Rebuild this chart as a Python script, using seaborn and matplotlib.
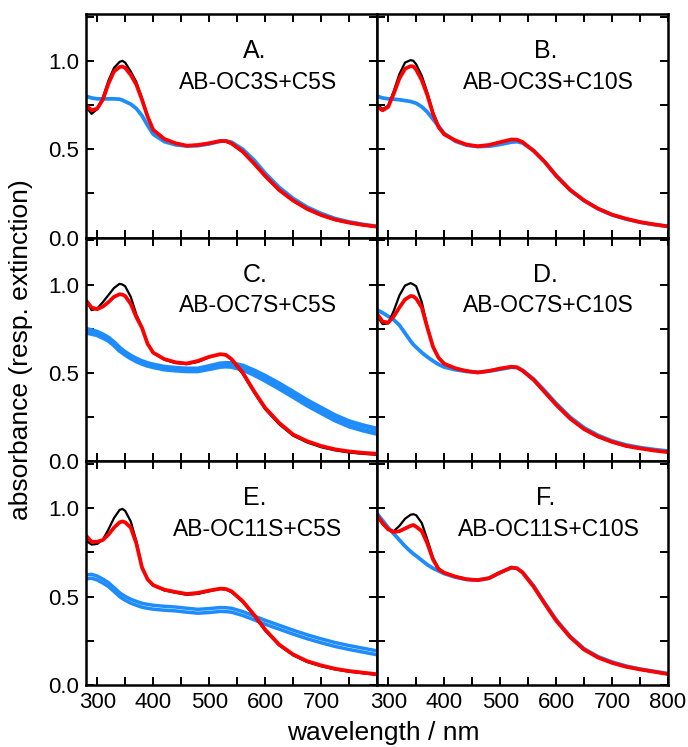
import matplotlib
matplotlib.use("Agg")
import matplotlib.pyplot as plt
from matplotlib.ticker import MultipleLocator, FixedLocator, FixedFormatter
import seaborn as sns

# ---------------- data ----------------
wavelength = [280, 290, 300, 310, 320, 330, 340, 345, 350, 360, 370, 380, 390, 400,
              420, 440, 460, 480, 500, 520, 530, 540, 560, 580, 600, 625, 650, 675,
              700, 725, 750, 775, 800]

a_black = [0.74, 0.70, 0.727, 0.79, 0.887, 0.96, 0.994, 1.0, 0.99, 0.94, 0.88, 0.79, 0.69, 0.612,
           0.558, 0.534, 0.52, 0.524, 0.534, 0.545, 0.543, 0.53, 0.483, 0.417, 0.346, 0.267, 0.207,
           0.16, 0.126, 0.10, 0.083, 0.07, 0.06]
a_red = [0.75, 0.72, 0.73, 0.78, 0.87, 0.94, 0.965, 0.968, 0.96, 0.92, 0.865, 0.78, 0.685, 0.61,
         0.558, 0.534, 0.52, 0.524, 0.534, 0.547, 0.546, 0.533, 0.487, 0.42, 0.35, 0.27, 0.21,
         0.163, 0.128, 0.102, 0.085, 0.072, 0.062]
a_blue = [0.80, 0.79, 0.785, 0.785, 0.785, 0.785, 0.783, 0.778, 0.77, 0.755, 0.73, 0.69, 0.635, 0.585,
          0.543, 0.525, 0.518, 0.52, 0.53, 0.545, 0.547, 0.54, 0.5, 0.44, 0.365, 0.285, 0.222,
          0.173, 0.137, 0.108, 0.089, 0.075, 0.064]

b_black = [0.755, 0.727, 0.746, 0.83, 0.925, 0.99, 1.004, 1.0, 0.98, 0.915, 0.82, 0.71, 0.63, 0.586,
           0.55, 0.526, 0.517, 0.524, 0.54, 0.554, 0.553, 0.54, 0.49, 0.427, 0.35, 0.27, 0.21,
           0.164, 0.13, 0.107, 0.088, 0.075, 0.064]
b_red = [0.74, 0.72, 0.74, 0.815, 0.9, 0.955, 0.97, 0.968, 0.95, 0.89, 0.805, 0.70, 0.625, 0.584,
         0.55, 0.526, 0.517, 0.524, 0.54, 0.555, 0.554, 0.541, 0.49, 0.427, 0.35, 0.27, 0.21,
         0.164, 0.13, 0.107, 0.088, 0.075, 0.064]
b_blue = [0.80, 0.79, 0.785, 0.783, 0.78, 0.775, 0.77, 0.765, 0.76, 0.74, 0.71, 0.67, 0.63, 0.59,
          0.545, 0.523, 0.515, 0.517, 0.527, 0.54, 0.543, 0.535, 0.493, 0.428, 0.352, 0.27, 0.21,
          0.163, 0.128, 0.105, 0.087, 0.074, 0.063]

c_black = [0.91, 0.855, 0.864, 0.90, 0.94, 0.98, 1.004, 1.0, 0.99, 0.93, 0.83, 0.76, 0.665, 0.612,
           0.575, 0.556, 0.55, 0.562, 0.588, 0.605, 0.6, 0.575, 0.495, 0.39, 0.295, 0.21, 0.145,
           0.107, 0.08, 0.062, 0.05, 0.042, 0.037]
c_red = [0.91, 0.87, 0.86, 0.875, 0.90, 0.93, 0.945, 0.943, 0.935, 0.89, 0.815, 0.755, 0.665, 0.615,
         0.578, 0.56, 0.553, 0.568, 0.591, 0.606, 0.602, 0.578, 0.502, 0.398, 0.303, 0.218, 0.152,
         0.114, 0.087, 0.068, 0.056, 0.048, 0.043]
c_blue1 = [0.748, 0.740, 0.731, 0.716, 0.698, 0.672, 0.641, 0.628, 0.616, 0.596, 0.579, 0.565, 0.554, 0.546,
           0.533, 0.527, 0.523, 0.523, 0.537, 0.552, 0.554, 0.554, 0.540, 0.513, 0.482, 0.439, 0.392,
           0.344, 0.301, 0.259, 0.225, 0.202, 0.183]
c_blue2 = [0.730, 0.722, 0.715, 0.700, 0.684, 0.658, 0.627, 0.616, 0.604, 0.584, 0.567, 0.553, 0.542, 0.534,
           0.521, 0.515, 0.511, 0.511, 0.523, 0.536, 0.538, 0.536, 0.520, 0.491, 0.458, 0.413, 0.366,
           0.318, 0.275, 0.233, 0.199, 0.176, 0.157]

d_black = [0.824, 0.776, 0.78, 0.852, 0.938, 0.994, 1.008, 1.0, 0.99, 0.90, 0.76, 0.653, 0.587, 0.553,
           0.527, 0.511, 0.502, 0.511, 0.525, 0.534, 0.53, 0.511, 0.458, 0.388, 0.318, 0.24, 0.18,
           0.138, 0.108, 0.085, 0.072, 0.06, 0.051]
d_red = [0.835, 0.79, 0.785, 0.82, 0.87, 0.915, 0.935, 0.933, 0.92, 0.87, 0.755, 0.648, 0.585, 0.552,
         0.526, 0.511, 0.502, 0.511, 0.525, 0.535, 0.532, 0.513, 0.46, 0.39, 0.32, 0.242, 0.182,
         0.14, 0.11, 0.087, 0.073, 0.061, 0.052]
d_blue = [0.856, 0.84, 0.82, 0.80, 0.77, 0.725, 0.68, 0.66, 0.645, 0.615, 0.59, 0.568, 0.548, 0.533,
          0.518, 0.508, 0.504, 0.51, 0.52, 0.532, 0.53, 0.515, 0.465, 0.398, 0.328, 0.25, 0.19,
          0.147, 0.115, 0.093, 0.078, 0.067, 0.058]

e_black = [0.817, 0.794, 0.798, 0.822, 0.879, 0.944, 0.99, 0.996, 0.985, 0.925, 0.813, 0.67, 0.598, 0.562,
           0.535, 0.522, 0.51, 0.515, 0.53, 0.543, 0.54, 0.525, 0.47, 0.393, 0.308, 0.224, 0.168,
           0.13, 0.106, 0.088, 0.075, 0.066, 0.057]
e_red = [0.845, 0.81, 0.81, 0.82, 0.85, 0.89, 0.92, 0.925, 0.92, 0.89, 0.80, 0.665, 0.598, 0.565,
         0.539, 0.526, 0.515, 0.521, 0.534, 0.545, 0.543, 0.53, 0.474, 0.398, 0.314, 0.229, 0.173,
         0.135, 0.111, 0.092, 0.079, 0.07, 0.061]
e_blue1 = [0.622, 0.626, 0.616, 0.599, 0.579, 0.551, 0.522, 0.511, 0.501, 0.485, 0.473, 0.462, 0.456, 0.451,
           0.445, 0.441, 0.434, 0.428, 0.432, 0.438, 0.437, 0.434, 0.415, 0.391, 0.366, 0.338, 0.310,
           0.284, 0.261, 0.240, 0.223, 0.208, 0.193]
e_blue2 = [0.600, 0.604, 0.594, 0.577, 0.557, 0.529, 0.500, 0.489, 0.479, 0.463, 0.451, 0.440, 0.434, 0.429,
           0.423, 0.419, 0.412, 0.406, 0.410, 0.416, 0.415, 0.412, 0.393, 0.369, 0.344, 0.316, 0.288,
           0.262, 0.239, 0.218, 0.201, 0.186, 0.171]

f_black = [0.953, 0.91, 0.879, 0.87, 0.90, 0.94, 0.963, 0.966, 0.96, 0.916, 0.822, 0.72, 0.66, 0.636,
           0.613, 0.598, 0.593, 0.604, 0.636, 0.664, 0.66, 0.636, 0.555, 0.458, 0.364, 0.271, 0.2,
           0.155, 0.125, 0.103, 0.088, 0.075, 0.062]
f_red = [0.96, 0.915, 0.88, 0.865, 0.87, 0.885, 0.90, 0.905, 0.895, 0.87, 0.80, 0.71, 0.655, 0.635,
         0.613, 0.598, 0.593, 0.604, 0.636, 0.664, 0.66, 0.636, 0.555, 0.458, 0.364, 0.271, 0.2,
         0.155, 0.125, 0.103, 0.088, 0.075, 0.062]
f_blue = [0.97, 0.93, 0.89, 0.855, 0.82, 0.785, 0.755, 0.742, 0.73, 0.705, 0.68, 0.66, 0.645, 0.63,
          0.61, 0.597, 0.593, 0.604, 0.636, 0.664, 0.66, 0.638, 0.56, 0.462, 0.37, 0.275, 0.205,
          0.16, 0.13, 0.107, 0.09, 0.077, 0.064]

panel_letters = ["A.", "B.", "C.", "D.", "E.", "F."]
panel_names = ["AB-OC3S+C5S", "AB-OC3S+C10S", "AB-OC7S+C5S",
               "AB-OC7S+C10S", "AB-OC11S+C5S", "AB-OC11S+C10S"]
x_ticks = [300, 400, 500, 600, 700, 800]
y_ticks = [0.0, 0.5, 1.0]
y_tick_labels = ["0.0", "0.5", "1.0"]

panels = [
    {"blue": [a_blue], "black": a_black, "red": a_red, "blw": 2.7},
    {"blue": [b_blue], "black": b_black, "red": b_red, "blw": 2.7},
    {"blue": [c_blue1, c_blue2], "black": c_black, "red": c_red, "blw": 3.4},
    {"blue": [d_blue], "black": d_black, "red": d_red, "blw": 2.7},
    {"blue": [e_blue1, e_blue2], "black": e_black, "red": e_red, "blw": 2.5},
    {"blue": [f_blue], "black": f_black, "red": f_red, "blw": 2.7},
]

# ---------------- style ----------------
sns.set_style("ticks")
plt.rcParams["font.family"] = ["Liberation Sans", "DejaVu Sans"]
plt.rcParams["text.color"] = "black"
plt.rcParams["axes.labelcolor"] = "black"
plt.rcParams["xtick.color"] = "black"
plt.rcParams["ytick.color"] = "black"

BLUE = "#1E8CFA"
RED = "#FF0000"
BLACK = "#000000"

fig, axes = plt.subplots(3, 2, figsize=(6.88, 7.47), dpi=100)
fig.subplots_adjust(left=0.125, right=0.971, top=0.9813, bottom=0.083,
                    wspace=0, hspace=0)

for i, ax in enumerate(axes.flat):
    p = panels[i]
    for bl in p["blue"]:
        sns.lineplot(x=wavelength, y=bl, ax=ax, color=BLUE, linewidth=p["blw"],
                     sort=False, legend=False)
    sns.lineplot(x=wavelength, y=p["black"], ax=ax, color=BLACK, linewidth=1.6,
                 sort=False, legend=False)
    sns.lineplot(x=wavelength, y=p["red"], ax=ax, color=RED, linewidth=2.7,
                 sort=False, legend=False)

    ax.set_xlim(280, 800)
    ax.set_ylim(0, 1.265)
    ax.xaxis.set_major_locator(FixedLocator(x_ticks))
    ax.xaxis.set_minor_locator(MultipleLocator(50))
    ax.yaxis.set_major_locator(FixedLocator(y_ticks))
    ax.yaxis.set_minor_locator(MultipleLocator(0.25))
    ax.tick_params(which="both", direction="in", top=True, right=True,
                   length=6, width=1.4, labelsize=16, pad=5,
                   color="black", labelcolor="black")
    for s in ax.spines.values():
        s.set_linewidth(1.8)
        s.set_color("black")
    ax.set_xlabel("")
    ax.set_ylabel("")

    row, col = divmod(i, 2)
    if col == 0:
        ax.yaxis.set_major_formatter(FixedFormatter(y_tick_labels))
    else:
        ax.set_yticklabels([])
    if row == 2:
        if col == 0:
            labs = [str(t) for t in x_ticks[:-1]] + [""]
        else:
            labs = [str(t) for t in x_ticks]
        ax.xaxis.set_major_formatter(FixedFormatter(labs))
    else:
        ax.set_xticklabels([])

    ax.text(0.58, 0.835, panel_letters[i], transform=ax.transAxes,
            ha="center", va="center", fontsize=18, color="black")
    ax.text(0.59, 0.695, panel_names[i], transform=ax.transAxes,
            ha="center", va="center", fontsize=16.5, color="black")

fig.text(0.031, 0.5315, "absorbance (resp. extinction)", rotation=90,
         ha="center", va="center", fontsize=19, color="black")
fig.text(0.557, 0.019, "wavelength / nm", ha="center", va="center",
         fontsize=19, color="black")

fig.savefig("out.png", dpi=100)
